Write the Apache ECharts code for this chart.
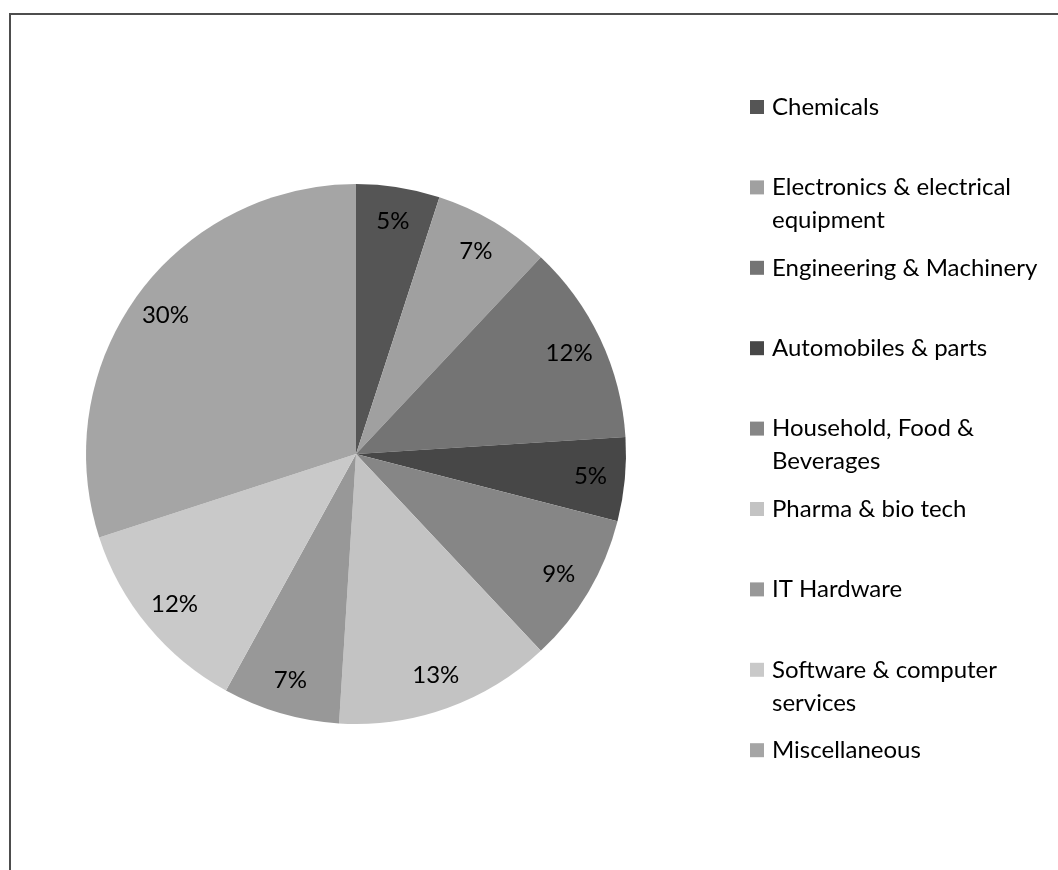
<!DOCTYPE html>
<html>
<head>
<meta charset="utf-8">
<title>Sector breakdown</title>
<script src="https://cdn.jsdelivr.net/npm/echarts@6/dist/echarts.min.js"></script>
<style>
  html, body { margin: 0; padding: 0; background: #ffffff; }
  #chart { width: 1058px; height: 870px; }
</style>
</head>
<body>
<div id="chart"></div>
<script>
// Sectors and their share of the total (percent)
const sectors = [
  'Chemicals',
  'Electronics & electrical\nequipment',
  'Engineering & Machinery',
  'Automobiles & parts',
  'Household, Food &\nBeverages',
  'Pharma & bio tech',
  'IT Hardware',
  'Software & computer\nservices',
  'Miscellaneous'
];
const shares = [5, 7, 12, 5, 9, 13, 7, 12, 30];
const sliceColors = ['#555555', '#a0a0a0', '#747474', '#474747', '#868686',
                     '#c3c3c3', '#989898', '#c9c9c9', '#a5a5a5'];

const FONT = 'Lato';
const FONT_SIZE = 24;
const LINE_H = 33;

const chart = echarts.init(document.getElementById('chart'), null, { renderer: 'canvas' });

const pieData = sectors.map((name, i) => ({
  name: name,
  value: shares[i],
  itemStyle: { color: sliceColors[i] }
}));

// One legend block per sector so each row sits on a fixed pitch
const legendFirstRow = 107;
const legendPitch = 80.4;
const legends = sectors.map((name, i) => {
  const multi = name.indexOf('\n') >= 0;
  const rowY = legendFirstRow + i * legendPitch;
  return {
    data: [name],
    left: 750,
    top: multi ? rowY - LINE_H * 1.5 : rowY - LINE_H / 2,
    orient: 'vertical',
    padding: 0,
    icon: 'rect',
    itemWidth: 14,
    itemHeight: 14,
    selectedMode: false,
    // a blank leading line keeps the marker level with the first text line
    formatter: n => (n.indexOf('\n') >= 0 ? '\n' + n : n),
    textStyle: {
      fontFamily: FONT,
      fontSize: FONT_SIZE,
      lineHeight: LINE_H,
      color: '#000000',
      padding: [0, 0, 0, 3]
    }
  };
});

chart.setOption({
  animation: false,
  backgroundColor: '#ffffff',
  graphic: [{
    type: 'rect',
    shape: { x: 10, y: 14, width: 1200, height: 1000 },
    style: { fill: 'none', stroke: '#4d4d4d', lineWidth: 2 },
    silent: true,
    z: 100
  }],
  legend: legends,
  series: [
    {
      type: 'pie',
      center: [356, 454],
      radius: [0, 270],
      startAngle: 90,
      clockwise: true,
      avoidLabelOverlap: false,
      label: { show: false },
      labelLine: { show: false },
      itemStyle: { borderWidth: 0 },
      emphasis: { disabled: true },
      data: pieData
    },
    {
      // ring used only to place the percentage labels near the rim
      type: 'pie',
      center: [356, 454],
      radius: [195, 270],
      startAngle: 90,
      clockwise: true,
      silent: true,
      avoidLabelOverlap: false,
      itemStyle: { color: 'rgba(0,0,0,0)', borderWidth: 0 },
      label: {
        show: true,
        position: 'inside',
        formatter: p => p.value + '%',
        fontFamily: FONT,
        fontSize: FONT_SIZE,
        color: '#000000'
      },
      labelLine: { show: false },
      emphasis: { disabled: true },
      data: sectors.map((name, i) => ({ name: name, value: shares[i] }))
    }
  ]
});
</script>
</body>
</html>
